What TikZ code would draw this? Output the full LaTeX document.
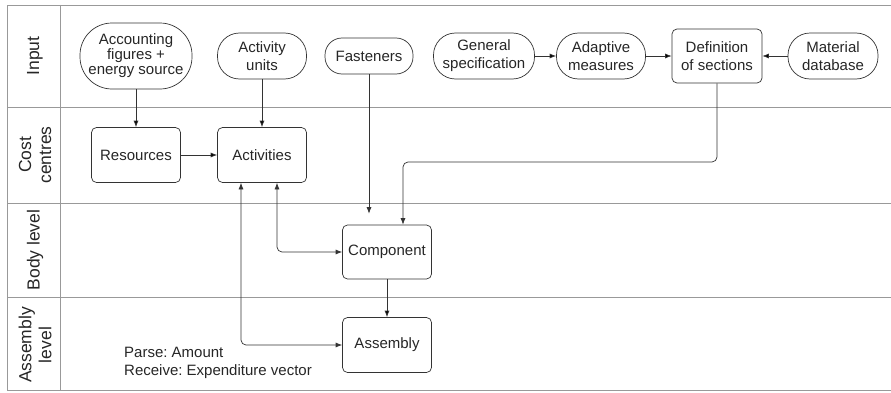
\documentclass[tikz,border=0pt]{standalone}
\usepackage{fontspec}
\setmainfont{Liberation Sans}
\frenchspacing
\usetikzlibrary{shapes,arrows,arrows.meta}
\tikzstyle{every picture}=[x=1pt, y=1pt, >={Latex[length=6.5pt,width=5pt]}, node distance=126pt]
\tikzstyle{every node}=[font=\fontsize{15}{18}\selectfont, text=black!85]
\tikzstyle{lane}=[draw=black!40, line width=0.9pt]
\tikzstyle{lanelabel}=[rotate=90, align=center, font=\fontsize{17.5}{20}\selectfont]
\tikzstyle{inbox}=[draw=black!80, line width=0.7pt, rounded corners=22pt, align=center,%
	minimum width=89pt, minimum height=46pt, inner sep=1pt]
\tikzstyle{procbox}=[draw=black!80, line width=0.7pt, rounded corners=5pt, align=center,%
	minimum width=89pt, minimum height=55pt, inner sep=1pt]
\tikzstyle{conn}=[draw=black!80, line width=0.7pt]

\begin{document}
\begin{tikzpicture}
\useasboundingbox (0,0) rectangle (891,392);
% swimlanes
\draw[lane] (891,387) -- (7,387) -- (7,2) -- (891,2);
\draw[lane] (60,387) -- (60,2);
\foreach \y in {285,189,95}
	\draw[lane] (7,\y) -- (891,\y);
\node[lanelabel] (lin) at (35,336) {Input};
\node[lanelabel] (lcost) at (35,237) {Cost\\centres};
\node[lanelabel] (lbody) at (35,142) {Body level};
\node[lanelabel] (lasm) at (35,47) {Assembly\\level};
% cost centres
\node[procbox] (res) at (136,237) {Resources};
\node[procbox] (act) [right of=res] {Activities};
% input
\node[inbox, minimum width=112pt, minimum height=66pt, rounded corners=32pt,%
	font=\fontsize{15}{15}\selectfont] (acc) [above of=res, node distance=99pt]%
	{Accounting\\figures +\\energy source};
\node[inbox] (actu) [above of=act, node distance=99pt] {Activity\\units};
\node[inbox, minimum width=88pt, minimum height=36pt, rounded corners=17pt] (fast)%
	at (369,336) {Fasteners};
\node[inbox, minimum width=101pt] (gen) at (484,336) {General\\specification};
\node[inbox] (adap) [right of=gen, node distance=117pt] {Adaptive\\measures};
\node[procbox, minimum width=90pt, minimum height=54pt] (defs) [right of=adap,%
	node distance=116pt] {Definition\\of sections};
\node[inbox, minimum width=90pt] (mat) [right of=defs, node distance=116pt]%
	{Material\\database};
% body and assembly
\node[procbox, minimum height=54pt] (comp) at (387,140) {Component};
\node[procbox] (asm) [below of=comp, node distance=93pt] {Assembly};
\node[align=left, anchor=west, inner sep=0pt] (note) at (124,29.5)%
	{Parse: Amount\\Receive: Expenditure vector};
\coordinate (bend) at (403,230);
% connectors
\path[conn,->] (acc) edge (res) (actu) edge (act) (res) edge (act)
	(gen) edge (adap) (adap) edge (defs) (mat) edge (defs) (comp) edge (asm);
\draw[conn,->, shorten >=11pt] (fast) -- (fast |- comp.north);
\draw[conn,->, rounded corners=5pt] (defs) |- (bend) -- ([xshift=16pt]comp.north);
\draw[conn,<->, rounded corners=5pt] ([xshift=15pt]act.south) |- (comp);
\draw[conn,<->, rounded corners=5pt] ([xshift=-21pt]act.south) |- (asm);
\end{tikzpicture}
\end{document}
